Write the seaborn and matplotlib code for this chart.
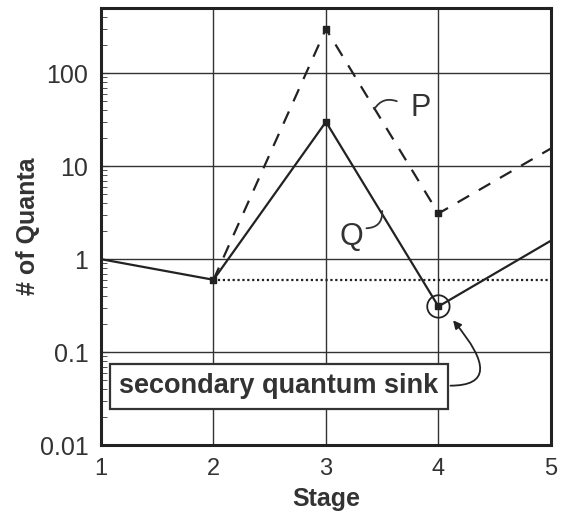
import numpy as np
import pandas as pd
import matplotlib
matplotlib.use("Agg")
import matplotlib.pyplot as plt
import seaborn as sns

# values
stages_q = [1, 2, 3, 4, 5]
quanta_q = [1.0, 0.6, 30.0, 0.31, 1.58]
stages_p = [2, 3, 4, 5]
quanta_p = [0.6, 300.0, 3.1, 15.5]
floor_stages = [2, 5]
floor_level = [0.6, 0.6]
sink_stage = 4
sink_value = 0.31

sns.set_style("white")
plt.rcParams["font.family"] = ["Liberation Sans", "DejaVu Sans"]

df_q = pd.DataFrame({"stage": stages_q, "quanta": quanta_q})
df_p = pd.DataFrame({"stage": stages_p, "quanta": quanta_p})
df_f = pd.DataFrame({"stage": floor_stages, "quanta": floor_level})

fig = plt.figure(figsize=(5.61, 5.14), dpi=100)
ax = fig.add_axes([0.18, 0.134, 0.802, 0.85])

ink = "#222222"
sns.lineplot(data=df_q, x="stage", y="quanta", ax=ax, color=ink, lw=1.6)
sns.lineplot(data=df_p, x="stage", y="quanta", ax=ax, color=ink, lw=1.6,
             linestyle=(0, (6, 5)))
sns.lineplot(data=df_f, x="stage", y="quanta", ax=ax, color=ink, lw=1.6,
             linestyle=(0, (1, 1.2)))

# small square markers at interior stages
mq = df_q[df_q.stage.between(2, 4)]
mp = df_p[df_p.stage.between(3, 4)]
ax.scatter(mq.stage, mq.quanta, marker="s", s=14, color=ink, zorder=3)
ax.scatter(mp.stage, mp.quanta, marker="s", s=14, color=ink, zorder=3)

ax.set_yscale("log")
ax.set_xlim(1, 5)
ax.set_ylim(0.01, 500)
ax.set_xticks([1, 2, 3, 4, 5])
ax.set_yticks([0.01, 0.1, 1, 10, 100])
ax.set_yticklabels(["0.01", "0.1", "1", "10", "100"])
ax.grid(True, which="major", color="#333333", lw=1.0)
ax.tick_params(axis="y", which="both", direction="in", left=True, labelsize=18,
               colors="#333333", pad=9)
ax.tick_params(axis="y", which="major", length=6)
ax.tick_params(axis="y", which="minor", length=4)
ax.tick_params(axis="x", length=0, labelsize=17, pad=9, colors="#333333")
for s in ax.spines.values():
    s.set_linewidth(2.2)
    s.set_color(ink)

ax.set_xlabel("Stage", fontsize=18, fontweight="bold", color="#333333", labelpad=5)
ax.set_ylabel("# of Quanta", fontsize=18, fontweight="bold", color="#333333", labelpad=0)

# circle around the sink point
ax.scatter([sink_stage], [sink_value], s=260, facecolors="none",
           edgecolors=ink, lw=1.3, zorder=4)

# curve labels with short leaders
ax.text(3.84, 42, "P", fontsize=22, color="#333333", va="center", ha="center")
ax.annotate("", xy=(3.43, 41), xytext=(3.63, 50),
            arrowprops=dict(arrowstyle="-", color="#333333", lw=1.3,
                            shrinkA=0, shrinkB=0,
                            connectionstyle="arc3,rad=0.4"))
ax.text(3.23, 1.75, "Q", fontsize=22, color="#333333", va="center", ha="center")
ax.annotate("", xy=(3.5, 3.3), xytext=(3.36, 2.15),
            arrowprops=dict(arrowstyle="-", color="#333333", lw=1.3,
                            shrinkA=0, shrinkB=0,
                            connectionstyle="arc3,rad=0.5"))

# boxed label with curved arrow to the sink
ax.text(2.58, 0.043, "secondary quantum sink", fontsize=19.5, fontweight="bold",
        color="#333333", ha="center", va="center",
        bbox=dict(boxstyle="square,pad=0.35", fc="white", ec="#333333", lw=1.6))
ax.annotate("", xy=(4.13, 0.22), xytext=(4.107, 0.0436),
            arrowprops=dict(arrowstyle="-|>", color=ink, lw=1.3,
                            mutation_scale=12, shrinkA=0, shrinkB=0,
                            connectionstyle="angle3,angleA=0,angleB=-50"))

plt.savefig("out.png", dpi=100)
